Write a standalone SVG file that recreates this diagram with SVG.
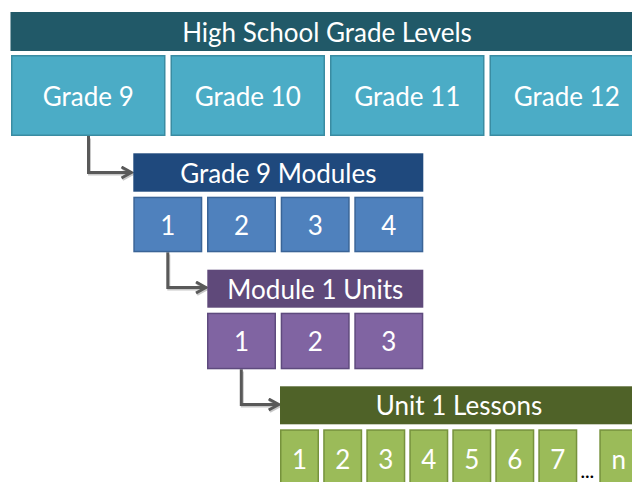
<svg xmlns="http://www.w3.org/2000/svg" width="632" height="482" viewBox="0 0 632 482">
<style>
  text { font-family: Lato, "Open Sans", "Liberation Sans", sans-serif; font-size: 26px; fill: #ffffff; text-anchor: middle; dominant-baseline: central; }
  .hdr-grade { fill: #215968; }
  .box-grade { fill: #4BACC6; stroke: #3A8CA2; stroke-width: 1.5; }
  .hdr-mod { fill: #1F497D; }
  .box-mod { fill: #4F81BD; stroke: #3A6497; stroke-width: 1.5; }
  .hdr-unit { fill: #5F497A; }
  .box-unit { fill: #8064A2; stroke: #5E4A7E; stroke-width: 1.5; }
  .hdr-les { fill: #4F6228; }
  .box-les { fill: #9BBB59; stroke: #76923C; stroke-width: 1.5; }
  .conn { fill: none; stroke: #595959; stroke-width: 3; }
  .shadow { fill: none; stroke: #c8c8c8; stroke-width: 3; }
  .dots { fill: #000000; font-size: 17px; font-weight: bold; letter-spacing: 0.5px; dominant-baseline: auto; }
</style>
<defs>
  <marker id="arrow" markerUnits="userSpaceOnUse" markerWidth="14" markerHeight="14" refX="12.5" refY="7" orient="auto" viewBox="0 0 14 14">
    <path d="M2,1.5 L12,7 L2,12.5" fill="none" stroke="#595959" stroke-width="3" stroke-linejoin="miter"/>
  </marker>
  <marker id="arrow-s" markerUnits="userSpaceOnUse" markerWidth="14" markerHeight="14" refX="12.5" refY="7" orient="auto" viewBox="0 0 14 14">
    <path d="M2,1.5 L12,7 L2,12.5" fill="none" stroke="#c8c8c8" stroke-width="3" stroke-linejoin="miter"/>
  </marker>
</defs>
<rect width="632" height="482" fill="#ffffff"/>

<g id="connectors">
  <g transform="translate(1,1.5)">
    <path class="shadow" d="M88.5,137 V172.5 H132" marker-end="url(#arrow-s)"/>
    <path class="shadow" d="M167.8,253 V287.5 H206.5" marker-end="url(#arrow-s)"/>
    <path class="shadow" d="M241.3,370 V404.5 H279.2" marker-end="url(#arrow-s)"/>
  </g>
  <path class="conn" d="M88.5,136 V172.5 H132" marker-end="url(#arrow)"/>
  <path class="conn" d="M167.8,252.3 V287.5 H206.5" marker-end="url(#arrow)"/>
  <path class="conn" d="M241.3,369.3 V404.5 H279.2" marker-end="url(#arrow)"/>
</g>

<g id="grade-levels">
  <rect class="hdr-grade" x="10.5" y="12" width="634" height="39"/>
  <text x="327" y="32">High School Grade Levels</text>
</g>
<g id="grade-9">
  <rect class="box-grade" x="11.75" y="55.75" width="153" height="79.5"/>
  <text x="88.25" y="96">Grade 9</text>
</g>
<g id="grade-10">
  <rect class="box-grade" x="171.25" y="55.75" width="153" height="79.5"/>
  <text x="247.75" y="96">Grade 10</text>
</g>
<g id="grade-11">
  <rect class="box-grade" x="330.75" y="55.75" width="153" height="79.5"/>
  <text x="407.25" y="96">Grade 11</text>
</g>
<g id="grade-12">
  <rect class="box-grade" x="490.25" y="55.75" width="153" height="79.5"/>
  <text x="566.75" y="96">Grade 12</text>
</g>

<g id="grade-9-modules">
  <rect class="hdr-mod" x="133.3" y="153.3" width="290" height="38.4"/>
  <text x="278.3" y="172.5">Grade 9 Modules</text>
</g>
<g id="module-1">
  <rect class="box-mod" x="134.05" y="197.45" width="67.5" height="54.1"/>
  <text x="167.8" y="224.5">1</text>
</g>
<g id="module-2">
  <rect class="box-mod" x="207.75" y="197.45" width="67.5" height="54.1"/>
  <text x="241.5" y="224.5">2</text>
</g>
<g id="module-3">
  <rect class="box-mod" x="281.45" y="197.45" width="67.5" height="54.1"/>
  <text x="315.2" y="224.5">3</text>
</g>
<g id="module-4">
  <rect class="box-mod" x="355.05" y="197.45" width="67.5" height="54.1"/>
  <text x="388.8" y="224.5">4</text>
</g>

<g id="module-1-units">
  <rect class="hdr-unit" x="207.3" y="269.7" width="216" height="38"/>
  <text x="315.3" y="288.7">Module 1 Units</text>
</g>
<g id="unit-1">
  <rect class="box-unit" x="207.75" y="313.45" width="67.5" height="55.1"/>
  <text x="241.5" y="341">1</text>
</g>
<g id="unit-2">
  <rect class="box-unit" x="281.45" y="313.45" width="67.5" height="55.1"/>
  <text x="315.2" y="341">2</text>
</g>
<g id="unit-3">
  <rect class="box-unit" x="355.05" y="313.45" width="67.5" height="55.1"/>
  <text x="388.8" y="341">3</text>
</g>

<g id="unit-1-lessons">
  <rect class="hdr-les" x="280" y="386.3" width="360" height="38"/>
  <text x="459" y="405.3">Unit 1 Lessons</text>
</g>
<g id="lesson-1">
  <rect class="box-les" x="280.75" y="430.05" width="37.5" height="60"/>
  <text x="299.5" y="458.5">1</text>
</g>
<g id="lesson-2">
  <rect class="box-les" x="323.95" y="430.05" width="37.5" height="60"/>
  <text x="342.7" y="458.5">2</text>
</g>
<g id="lesson-3">
  <rect class="box-les" x="367.05" y="430.05" width="37.5" height="60"/>
  <text x="385.8" y="458.5">3</text>
</g>
<g id="lesson-4">
  <rect class="box-les" x="410.05" y="430.05" width="37.5" height="60"/>
  <text x="428.8" y="458.5">4</text>
</g>
<g id="lesson-5">
  <rect class="box-les" x="453.05" y="430.05" width="37.5" height="60"/>
  <text x="471.8" y="458.5">5</text>
</g>
<g id="lesson-6">
  <rect class="box-les" x="496.05" y="430.05" width="37.5" height="60"/>
  <text x="514.8" y="458.5">6</text>
</g>
<g id="lesson-7">
  <rect class="box-les" x="539.05" y="430.05" width="37.5" height="60"/>
  <text x="557.8" y="458.5">7</text>
</g>
<g id="lesson-n">
  <rect class="box-les" x="600.05" y="430.05" width="37.5" height="60"/>
  <text x="618.8" y="458.5">n</text>
</g>
<text class="dots" x="587.5" y="477.5">…</text>
</svg>
